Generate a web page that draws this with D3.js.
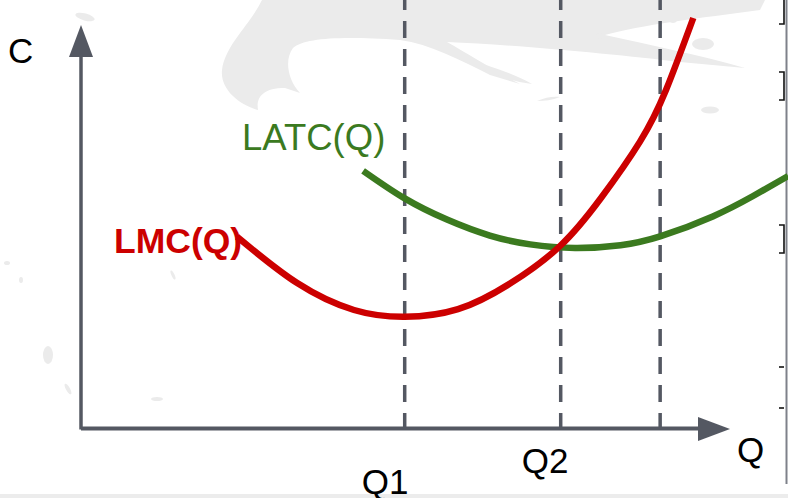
<!DOCTYPE html>
<html>
<head>
<meta charset="utf-8">
<script src="https://cdn.jsdelivr.net/npm/d3@7"></script>
<style>
  html, body { margin: 0; padding: 0; background: #ffffff; }
  svg { display: block; font-family: "Liberation Sans", Arial, sans-serif; }
</style>
</head>
<body>
<svg id="chart" width="788" height="498"></svg>
<script>
// ---------- data ----------
const lmcQ = [2.40, 3.32, 4.20, 4.98, 5.80, 6.60, 7.37, 8.00, 8.60, 9.00, 9.42];
const lmcC = [4.78, 3.63, 2.95, 2.78, 2.97, 3.61, 4.55, 5.75, 7.16, 8.45, 10.25];
const latcQ = [4.34, 4.98, 5.63, 6.29, 6.91, 7.60, 8.30, 8.91, 9.72, 10.34, 10.88];
const latcC = [6.43, 5.74, 5.21, 4.81, 4.59, 4.50, 4.57, 4.79, 5.29, 5.80, 6.30];
const guideQ = [4.98, 7.38, 8.91];
const guideLabels = ["Q1", "Q2", ""];
const seriesNames = ["LMC(Q)", "LATC(Q)"];
const axisNames = ["C", "Q"];

// ---------- setup ----------
const svg = d3.select("#chart");
const x = d3.scaleLinear().domain([0, 10]).range([81, 731]);
const y = d3.scaleLinear().domain([0, 10]).range([428, 28]);
const axisColor = "#545862";
const red = "#cc0000";
const green = "#3b7a1f";

// ---------- background decoration (light grey brush strokes) ----------
const bg = svg.append("g").attr("fill", "#ebebeb");
bg.append("path").attr("d",
  "M262,0 C250,25 225,45 222,70 C220,90 240,105 258,110 C256,98 262,88 285,88 L300,93 " +
  "C288,80 284,60 293,48 C305,38 340,36 400,40 C430,44 460,60 490,75 L520,84 " +
  "C490,68 470,55 447,42 C520,45 620,55 680,62 L745,68 C700,55 650,45 605,35 " +
  "C640,25 700,18 760,10 L765,0 Z");
bg.append("path").attr("d", "M462,58 C490,66 515,74 532,84 C505,80 485,72 462,58 Z");
bg.append("path").attr("d", "M537,101 C545,97 555,96 560,97 C552,100 545,101 537,101 Z");
bg.append("ellipse").attr("cx", 673).attr("cy", 15).attr("rx", 6).attr("ry", 8);
bg.append("ellipse").attr("cx", 703).attr("cy", 44).attr("rx", 11).attr("ry", 6);
bg.append("ellipse").attr("cx", 710).attr("cy", 110).attr("rx", 9).attr("ry", 3.5);
bg.append("ellipse").attr("cx", 600).attr("cy", 36).attr("rx", 5).attr("ry", 2.5);
bg.append("ellipse").attr("cx", 85).attr("cy", 17).attr("rx", 10).attr("ry", 3.5)
  .attr("transform", "rotate(15,85,17)");
bg.append("ellipse").attr("cx", 48).attr("cy", 355).attr("rx", 5).attr("ry", 9);
bg.append("ellipse").attr("cx", 68).attr("cy", 389).attr("rx", 2).attr("ry", 6).attr("transform", "rotate(-30,68,389)");
bg.append("ellipse").attr("cx", 157).attr("cy", 399).attr("rx", 6).attr("ry", 2);
bg.append("ellipse").attr("cx", 7).attr("cy", 263).attr("rx", 3).attr("ry", 2);
bg.append("ellipse").attr("cx", 21).attr("cy", 280).attr("rx", 2).attr("ry", 3);
bg.append("ellipse").attr("cx", 173).attr("cy", 275).attr("rx", 1.5).attr("ry", 5).attr("transform", "rotate(-25,173,275)");
// bottom band
svg.append("rect").attr("x", 0).attr("y", 494).attr("width", 788).attr("height", 4).attr("fill", "#ececec");

// ---------- right-edge artefacts ----------
const edge = svg.append("g");
edge.append("line").attr("x1", 786.5).attr("x2", 786.5).attr("y1", 0).attr("y2", 484)
  .attr("stroke", "#7e818a").attr("stroke-width", 2);
const br = edge.append("g").attr("stroke", "#111").attr("stroke-width", 1.6).attr("fill", "none");
br.append("path").attr("d", "M784,0 V24 H779");
br.append("path").attr("d", "M779,72 H784 V100 H779");
br.append("path").attr("d", "M779,225 H784 V253 H779");
br.append("path").attr("d", "M779,367 H784");
br.append("path").attr("d", "M779,408 H784");

// ---------- dashed guide lines ----------
svg.append("g").selectAll("line").data(guideQ).join("line")
  .attr("x1", d => x(d)).attr("x2", d => x(d))
  .attr("y1", 0).attr("y2", y(0))
  .attr("stroke", axisColor).attr("stroke-width", 3.5)
  .attr("stroke-dasharray", "17,11").attr("stroke-dashoffset", 7);

// ---------- axes ----------
const ax = svg.append("g");
ax.append("line").attr("x1", x(0)).attr("x2", x(0)).attr("y1", y(0) + 1.5).attr("y2", 55)
  .attr("stroke", axisColor).attr("stroke-width", 3.5);
ax.append("line").attr("x1", x(0)).attr("x2", 700).attr("y1", y(0) + 0.5).attr("y2", y(0) + 0.5)
  .attr("stroke", axisColor).attr("stroke-width", 3.8);
ax.append("path").attr("d", `M${x(0)},25 L${x(0) + 12},57 L${x(0) - 12},57 Z`).attr("fill", axisColor);
ax.append("path").attr("d", `M730,${y(0) + 1} L698,${y(0) - 11} L698,${y(0) + 13} Z`).attr("fill", axisColor);

// ---------- curves ----------
const line = d3.line().x(d => x(d[0])).y(d => y(d[1])).curve(d3.curveNatural);
const latcPts = latcQ.map((q, i) => [q, latcC[i]]);
const lmcPts = lmcQ.map((q, i) => [q, lmcC[i]]);
svg.append("path").attr("d", line(latcPts)).attr("fill", "none")
  .attr("stroke", green).attr("stroke-width", 6.5);
svg.append("path").attr("d", line(lmcPts)).attr("fill", "none")
  .attr("stroke", red).attr("stroke-width", 6.5);

// ---------- text ----------
const fs = 35;
svg.append("text").attr("x", 8).attr("y", 63).attr("font-size", fs).attr("fill", "#000").text(axisNames[0]);
svg.append("text").attr("x", 737).attr("y", 462).attr("font-size", fs).attr("fill", "#000").text(axisNames[1]);
svg.append("text").attr("x", x(guideQ[0]) - 43).attr("y", 494).attr("font-size", fs).attr("fill", "#000").text(guideLabels[0]);
svg.append("text").attr("x", x(guideQ[1]) - 39).attr("y", 473).attr("font-size", fs).attr("fill", "#000").text(guideLabels[1]);
svg.append("text").attr("x", 242).attr("y", 150).attr("font-size", 36.5).attr("fill", green).text(seriesNames[1]);
svg.append("text").attr("x", 114).attr("y", 253).attr("font-size", 35.5).attr("font-weight", "bold")
  .attr("fill", red).text(seriesNames[0]);
</script>
</body>
</html>
